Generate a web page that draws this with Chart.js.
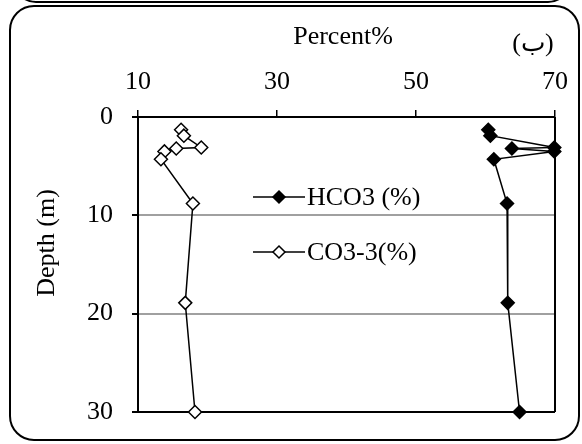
<!DOCTYPE html>
<html>
<head>
<meta charset="utf-8">
<script src="https://cdn.jsdelivr.net/npm/chart.js@4.4.1/dist/chart.umd.min.js"></script>
<style>
  html, body { margin: 0; padding: 0; background: #fff; }
  canvas { display: block; }
</style>
</head>
<body>
<canvas id="depthChart" width="582" height="444"></canvas>
<script>
// Depth of each sample (m)
const depths = [1.3, 1.9, 3.1, 3.2, 3.5, 4.3, 8.8, 18.9, 30]
// Percent values per depth
const hco3Values = [60.4, 60.7, 69.9, 63.8, 69.9, 61.2, 63.1, 63.2, 64.9]
const co3Values = [16.2, 16.6, 19.1, 15.5, 13.8, 13.3, 17.9, 16.8, 18.2]
const seriesLabels = ["HCO3 (%)", "CO3-3(%)"]
const percentTicks = [10, 30, 50, 70]
const depthTicks = [0, 10, 20, 30]

const FONT = "Liberation Serif"

function toPoints(values) {
  return values.map((v, i) => ({ x: v, y: depths[i] }))
}

// Frames, titles, right border and the inner legend
const decorPlugin = {
  id: "decor",
  afterDraw(chart) {
    const ctx = chart.ctx
    const area = chart.chartArea
    ctx.save()

    // plot right border
    ctx.strokeStyle = "#000"
    ctx.lineWidth = 2
    ctx.beginPath()
    ctx.moveTo(area.right, area.top)
    ctx.lineTo(area.right, area.bottom)
    ctx.stroke()

    // rounded frames (previous panel bottom + this panel)
    ctx.lineWidth = 2
    ctx.beginPath()
    ctx.roundRect(14, -60, 556, 62, 22)
    ctx.stroke()
    ctx.beginPath()
    ctx.roundRect(10, 6, 569, 434, 24)
    ctx.stroke()

    // titles
    ctx.fillStyle = "#000"
    ctx.font = `26px "${FONT}"`
    ctx.textAlign = "center"
    ctx.textBaseline = "middle"
    ctx.fillText("Percent%", 343, 37)
    ctx.fillText("(ب)", 533, 44)

    ctx.save()
    ctx.translate(47, 243)
    ctx.rotate(-Math.PI / 2)
    ctx.font = `26px "${FONT}"`
    ctx.fillText("Depth (m)", 0, 0)
    ctx.restore()

    // legend
    const rows = [
      { y: 197, fill: "#000" },
      { y: 252, fill: "#fff" },
    ]
    ctx.font = `26px "${FONT}"`
    ctx.textAlign = "left"
    rows.forEach((row, i) => {
      ctx.strokeStyle = "#000"
      ctx.lineWidth = 1.5
      ctx.beginPath()
      ctx.moveTo(253, row.y)
      ctx.lineTo(305, row.y)
      ctx.stroke()
      ctx.beginPath()
      ctx.moveTo(279, row.y - 6)
      ctx.lineTo(285, row.y)
      ctx.lineTo(279, row.y + 6)
      ctx.lineTo(273, row.y)
      ctx.closePath()
      ctx.fillStyle = row.fill
      ctx.fill()
      ctx.stroke()
      ctx.fillStyle = "#000"
      ctx.fillText(seriesLabels[i], 307, row.y + 1)
    })

    ctx.restore()
  },
}

const chart = new Chart(document.getElementById("depthChart"), {
  type: "scatter",
  data: {
    datasets: [
      {
        label: seriesLabels[0],
        data: toPoints(hco3Values),
        showLine: true,
        clip: false,
        borderColor: "#000",
        borderWidth: 1.5,
        pointStyle: "rectRot",
        pointRadius: 6.5,
        pointBackgroundColor: "#000",
        pointBorderColor: "#000",
        pointBorderWidth: 1.5,
      },
      {
        label: seriesLabels[1],
        data: toPoints(co3Values),
        showLine: true,
        clip: false,
        borderColor: "#000",
        borderWidth: 1.5,
        pointStyle: "rectRot",
        pointRadius: 6.5,
        pointBackgroundColor: "#fff",
        pointBorderColor: "#000",
        pointBorderWidth: 1.5,
      },
    ],
  },
  options: {
    responsive: false,
    animation: false,
    layout: { padding: { top: 0, left: 0, right: 27, bottom: 32 } },
    plugins: {
      legend: { display: false },
      tooltip: { enabled: false },
    },
    scales: {
      x: {
        type: "linear",
        position: "top",
        min: 10,
        max: 70,
        afterBuildTicks: (axis) => {
          axis.ticks = percentTicks.map((v) => ({ value: v }))
        },
        afterFit: (axis) => {
          axis.height = 117
          axis.paddingLeft = 0
          axis.paddingRight = 0
        },
        ticks: {
          color: "#000",
          font: { family: FONT, size: 26 },
          padding: 12,
          maxRotation: 0,
        },
        grid: {
          drawOnChartArea: false,
          drawTicks: true,
          tickLength: 7,
          color: "#000",
          lineWidth: 1.5,
        },
        border: { color: "#000", width: 2 },
      },
      y: {
        type: "linear",
        reverse: true,
        min: 0,
        max: 30,
        afterBuildTicks: (axis) => {
          axis.ticks = depthTicks.map((v) => ({ value: v }))
        },
        afterFit: (axis) => {
          axis.width = 138
          axis.paddingTop = 0
          axis.paddingBottom = 0
        },
        ticks: {
          color: "#000",
          font: { family: FONT, size: 26 },
          padding: 19,
        },
        grid: {
          color: (c) => (c.tick && (c.tick.value === 10 || c.tick.value === 20) ? "#a0a0a0" : c.tick && c.tick.value === 30 ? "#000" : "rgba(0,0,0,0)"),
          lineWidth: 2,
          tickColor: "#000",
          tickLength: 6,
        },
        border: { color: "#000", width: 2 },
      },
    },
  },
  plugins: [decorPlugin],
})
</script>
</body>
</html>
